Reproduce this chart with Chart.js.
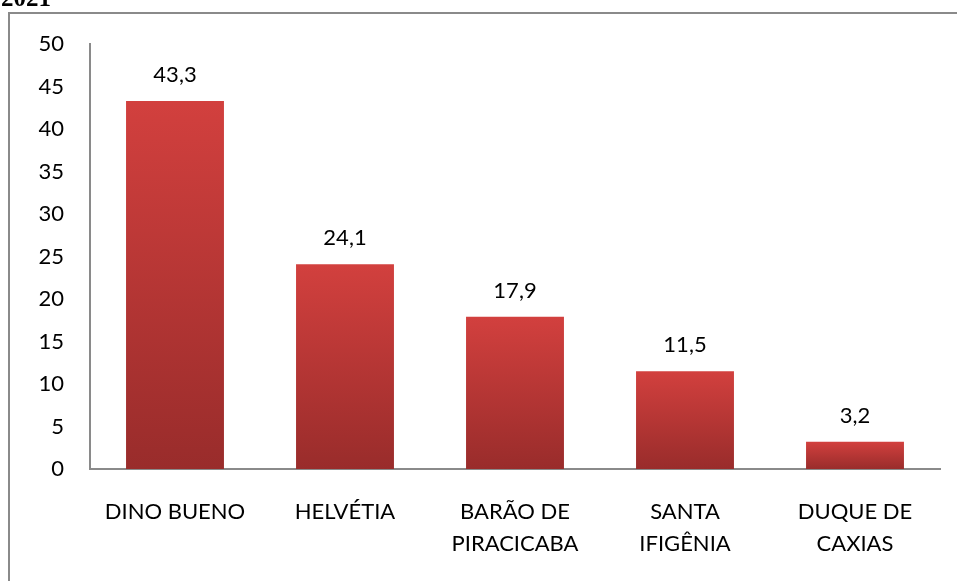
<!DOCTYPE html>
<html>
<head>
<meta charset="utf-8">
<script src="https://cdn.jsdelivr.net/npm/chart.js@4/dist/chart.umd.min.js"></script>
<style>
  html, body { margin: 0; padding: 0; background: #fff; }
  #wrap { width: 957px; height: 581px; position: relative; }
</style>
</head>
<body>
<div id="wrap"><canvas id="chart" width="957" height="581"></canvas></div>
<script>
// Chart data
const categories = [['DINO BUENO'], ['HELVÉTIA'], ['BARÃO DE', 'PIRACICABA'], ['SANTA', 'IFIGÊNIA'], ['DUQUE DE', 'CAXIAS']];
const values = [43.3, 24.1, 17.9, 11.5, 3.2];
const yTicks = [0, 5, 10, 15, 20, 25, 30, 35, 40, 45, 50];
const title = '2021';

const FONT = 'Lato, "Open Sans", sans-serif';

// Vertical gradient per bar, from its top down to the axis
function barColor(context) {
    const chart = context.chart;
    if (!chart.chartArea || context.dataIndex === undefined) return '#c33a38';
    const y = chart.scales.y;
    const top = y.getPixelForValue(values[context.dataIndex]);
    const bottom = y.getPixelForValue(0);
    const g = chart.ctx.createLinearGradient(0, top, 0, bottom);
    g.addColorStop(0, '#d2403e');
    g.addColorStop(1, '#992c2b');
    return g;
}

// Frame around the figure and the cut-off heading
const framePlugin = {
    id: 'frame',
    beforeDraw(chart) {
        const ctx = chart.ctx;
        ctx.save();
        ctx.strokeStyle = '#8a8a8a';
        ctx.lineWidth = 2;
        ctx.beginPath();
        ctx.moveTo(9, 581);
        ctx.lineTo(9, 13);
        ctx.lineTo(957, 13);
        ctx.stroke();
        ctx.fillStyle = '#000';
        ctx.font = 'bold 25px "Liberation Serif", serif';
        ctx.textBaseline = 'alphabetic';
        ctx.fillText(title, 1, 6);
        ctx.restore();
    }
};

// Value labels above the bars, with comma decimals
const valueLabels = {
    id: 'valueLabels',
    afterDatasetsDraw(chart) {
        const ctx = chart.ctx;
        const meta = chart.getDatasetMeta(0);
        ctx.save();
        ctx.fillStyle = '#000';
        ctx.font = '22px ' + FONT;
        ctx.textAlign = 'center';
        ctx.textBaseline = 'alphabetic';
        meta.data.forEach((bar, i) => {
            const text = values[i].toFixed(1).replace('.', ',');
            ctx.fillText(text, bar.x, bar.y - 19);
        });
        ctx.restore();
    }
};

const ctx = document.getElementById('chart').getContext('2d');
const chart = new Chart(ctx, {
    type: 'bar',
    data: {
        labels: categories,
        datasets: [{
            data: values,
            backgroundColor: barColor,
            borderWidth: 0,
            categoryPercentage: 1,
            barPercentage: 0.576
        }]
    },
    options: {
        responsive: false,
        animation: false,
        layout: { padding: { left: 0, right: 17, top: 44, bottom: 0 } },
        plugins: {
            legend: { display: false },
            tooltip: { enabled: false }
        },
        scales: {
            x: {
                grid: { display: false, drawTicks: false },
                border: { display: true, color: '#8a8a8a', width: 2 },
                ticks: {
                    color: '#000',
                    padding: 27,
                    maxRotation: 0,
                    autoSkip: false,
                    font: { family: FONT, size: 22, lineHeight: 1.45 }
                },
                afterFit(scale) { scale.height = 112; }
            },
            y: {
                min: 0,
                max: 50,
                afterBuildTicks(scale) { scale.ticks = yTicks.map(v => ({ value: v })); },
                grid: { display: false, drawTicks: false },
                border: { display: true, color: '#8a8a8a', width: 2 },
                ticks: {
                    color: '#000',
                    padding: 26,
                    font: { family: FONT, size: 22 }
                },
                afterFit(scale) { scale.width = 90; }
            }
        }
    },
    plugins: [framePlugin, valueLabels]
});
</script>
</body>
</html>
